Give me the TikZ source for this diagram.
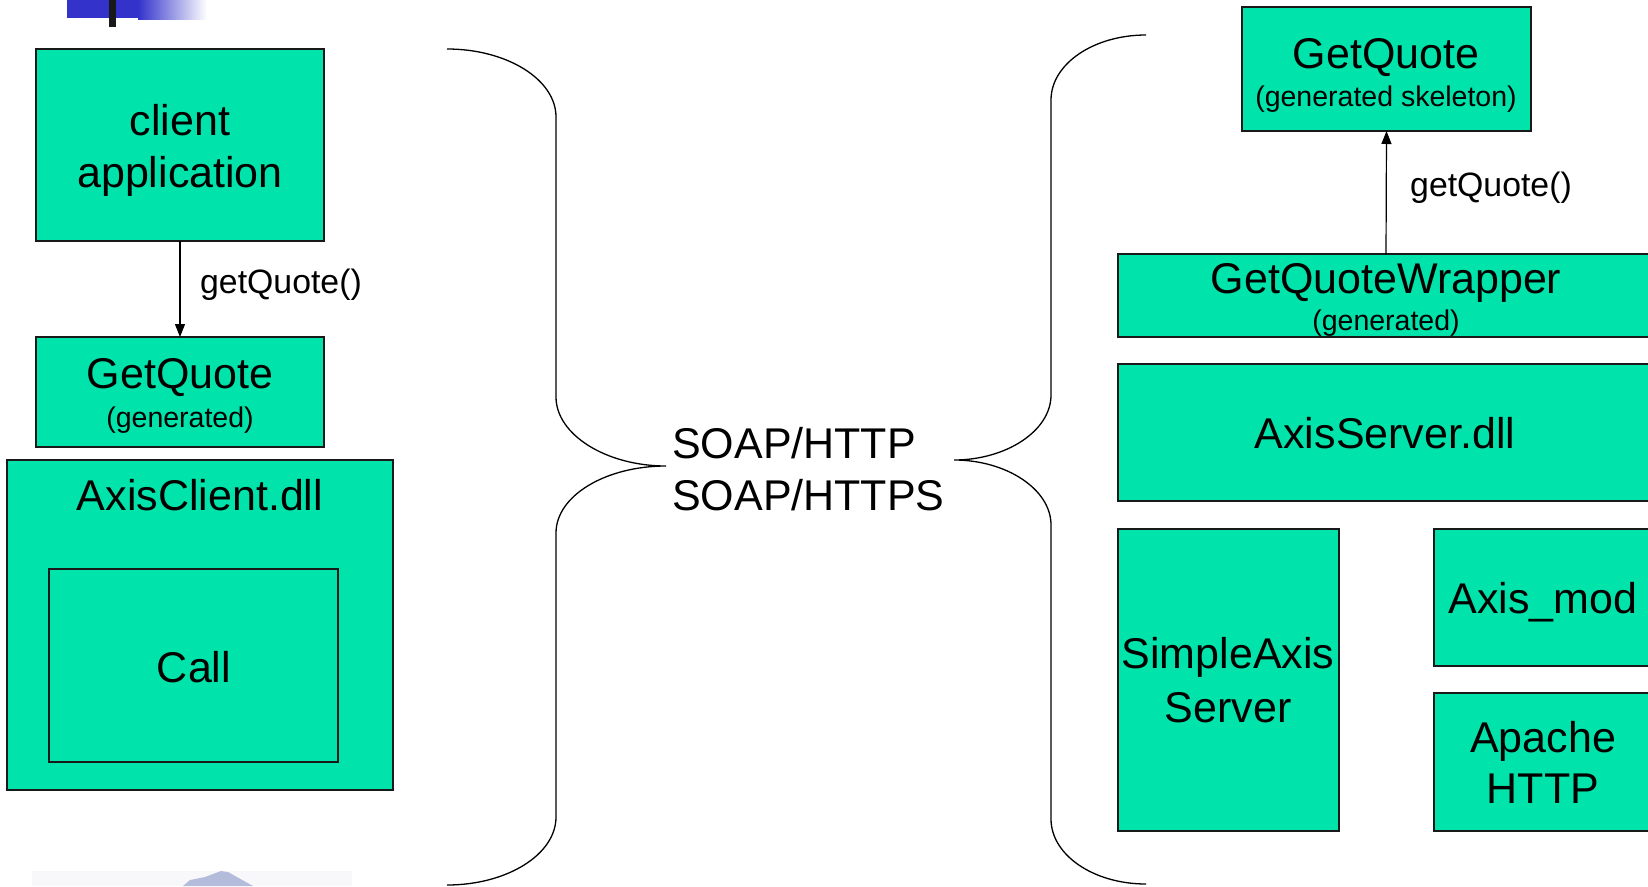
\documentclass[tikz,border=0pt]{standalone}
\usepackage{fontspec}
\setmainfont{Liberation Sans}
\usetikzlibrary{arrows.meta}
\definecolor{boxgreen}{RGB}{0,227,170}
\definecolor{logoblue}{RGB}{51,51,204}
\definecolor{logogray}{RGB}{180,188,220}
\definecolor{bandgray}{RGB}{248,248,250}
\begin{document}
\begin{tikzpicture}[x=1pt,y=-1pt,
  box/.style={draw=black!90, line width=1.8pt, fill=boxgreen, inner sep=0pt, outer sep=0pt, anchor=north west},
  innerbox/.style={box, line width=1.3pt},
  big/.style={inner sep=0pt, anchor=base, font=\fontsize{43}{52}\selectfont},
  small/.style={inner sep=0pt, anchor=base, font=\fontsize{28.5}{34}\selectfont},
  lbl/.style={inner sep=0pt, anchor=base west, font=\fontsize{33.8}{40}\selectfont},
  arr/.style={line width=1.2pt, -{Triangle[length=13pt,width=10pt]}},
  brace/.style={line width=1.3pt}]
\path[use as bounding box] (0,0) rectangle (1648,886);
\clip (0,0) rectangle (1648,886);
\fill[white] (0,0) rectangle (1648,886);

% logo top-left
\fill[logoblue] (67,0) rectangle (138,18);
\shade[left color=logoblue, right color=white] (138,0) rectangle (207,19);
\fill[black!90] (109,0) rectangle (116,27);

% bottom-left decoration
\fill[bandgray] (32,871) rectangle (352,886);
\fill[logogray] (183,886) -- (190,880) -- (205,877) -- (221,871) -- (228,872) -- (253,886) -- cycle;

% left side
\node[box, minimum width=288pt, minimum height=192pt] (capp) at (36,49) {};
\node[big] (capp1) at (180,135) {client};
\node[big] (capp2) at (180,187) {application};

\node[box, minimum width=288pt, minimum height=110pt] (gql) at (36,337) {};
\node[big] (gql1) at (180,388) {GetQuote};
\node[small] (gql2) at (180,427) {(generated)};

\draw[arr] (capp.south) -- (gql.north);
\node[lbl] (gqlbl) at (200,293) {getQuote()};

\node[box, minimum width=386pt, minimum height=330pt] (acl) at (7,460) {};
\node[big] (acl1) at (200,510) {AxisClient.dll};
\node[innerbox, minimum width=289pt, minimum height=193pt] (call) at (49,569) {};
\node[big] (call1) at (194,682) {Call};

% braces
\draw[brace] (447,49) .. controls (507,49) and (556,79.5) .. (556,117)
  -- (556,397) .. controls (556,434.5) and (606,466) .. (666,466)
  .. controls (606,466) and (556,495.5) .. (556,533)
  -- (556,817) .. controls (556,854.5) and (507,885) .. (447,885);
\draw[brace] (1146,35) .. controls (1093.5,35) and (1051,64) .. (1051,100)
  -- (1051,395) .. controls (1051,431) and (1006,460) .. (954,460)
  .. controls (1006,460) and (1051,489) .. (1051,525)
  -- (1051,819) .. controls (1051,855) and (1093.5,884) .. (1146,884);

\node[big, anchor=base west] (soap1) at (672,458) {SOAP/HTTP};
\node[big, anchor=base west] (soap2) at (672,510) {SOAP/HTTPS};

% right side
\node[box, minimum width=289pt, minimum height=124pt] (gqs) at (1242,7) {};
\node[big] (gqs1) at (1386,68) {GetQuote};
\node[small] (gqs2) at (1386,106) {(generated skeleton)};

\node[box, minimum width=536pt, minimum height=83pt] (gqw) at (1118,254) {};
\node[big] (gqw1) at (1386,293) {GetQuoteWrapper};
\node[small] (gqw2) at (1386,330) {(generated)};

\draw[arr] (gqw.north) -- (gqs.south);
\node[lbl] (gqrlbl) at (1410,196) {getQuote()};

\node[box, minimum width=536pt, minimum height=137pt] (asrv) at (1118,364) {};
\node[big] (asrv1) at (1385,448) {AxisServer.dll};

\node[box, minimum width=221pt, minimum height=302pt] (sas) at (1118,529) {};
\node[big] (sas1) at (1228,668) {SimpleAxis};
\node[big] (sas2) at (1228,722) {Server};

\node[box, minimum width=220pt, minimum height=137pt] (amod) at (1434,529) {};
\node[big] (amod1) at (1543,613) {Axis\_mod};

\node[box, minimum width=220pt, minimum height=138pt] (ahttp) at (1434,693) {};
\node[big] (ahttp1) at (1543,752) {Apache};
\node[big] (ahttp2) at (1543,803) {HTTP};
\end{tikzpicture}
\end{document}
